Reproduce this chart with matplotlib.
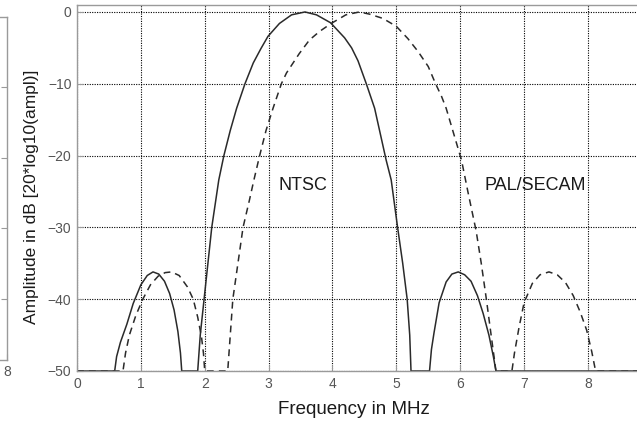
import numpy as np
import matplotlib
matplotlib.use("Agg")
import matplotlib.pyplot as plt

plt.rcParams['font.family'] = ['Liberation Sans', 'DejaVu Sans']

# NTSC spectrum (solid), frequency in MHz / amplitude in dB
ntsc_f = [0.0, 0.59, 0.62, 0.68, 0.78, 0.88, 1.00, 1.10, 1.19, 1.28, 1.37, 1.45, 1.52,
          1.58, 1.62, 1.64,
          1.89, 1.93, 1.99, 2.05, 2.11, 2.22, 2.30, 2.40, 2.50, 2.63, 2.76, 2.88, 2.99,
          3.17, 3.36, 3.57, 3.75, 3.97, 4.19, 4.30, 4.40, 4.53, 4.66, 4.75, 4.84, 4.92,
          5.02, 5.10, 5.17, 5.21, 5.23,
          5.52, 5.55, 5.59, 5.67, 5.78, 5.87, 5.97, 6.07, 6.17, 6.27, 6.36, 6.45, 6.52,
          6.56, 8.9]
ntsc_db = [-50, -50, -48, -46, -43.5, -40.6, -38, -36.7, -36.2, -36.5, -37.5, -39.2, -41.5,
           -44.5, -47.5, -50,
           -50, -45, -40, -35, -30, -23.4, -20, -16.5, -13.4, -10, -7.1, -5.1, -3.4,
           -1.6, -0.4, 0, -0.4, -1.5, -3.6, -5.0, -6.8, -10, -13.4, -17, -20.6, -23.4,
           -30, -35, -40, -45, -50,
           -50, -47, -44.7, -40.5, -37.6, -36.5, -36.2, -36.6, -37.5, -39.5, -42, -45, -48,
           -50, -50]

# PAL/SECAM spectrum (dashed)
pal_f = [0.0, 0.72, 0.76, 0.82, 0.92, 1.03, 1.15, 1.27, 1.38, 1.48, 1.60, 1.73, 1.82,
         1.89, 1.95, 1.98, 2.00,
         2.36, 2.40, 2.44, 2.52, 2.60, 2.70, 2.77, 2.86, 2.96, 3.07, 3.20, 3.28, 3.48,
         3.64, 3.80, 3.98, 4.21, 4.42, 4.58, 4.79, 5.00, 5.18, 5.34, 5.50, 5.61, 5.71,
         5.78, 5.90, 6.02, 6.12, 6.25, 6.33, 6.41, 6.48, 6.53, 6.56,
         6.81, 6.85, 6.92, 7.00, 7.13, 7.25, 7.39, 7.52, 7.65, 7.77, 7.88, 7.98, 8.06,
         8.12, 8.9]
pal_db = [-50, -50, -47.5, -45, -42.3, -40, -38, -36.8, -36.3, -36.2, -36.7, -38.3, -40,
          -42.5, -45.3, -47.5, -50,
          -50, -45, -40, -35, -30, -26.2, -23.4, -20, -16.5, -13.4, -10, -8.5, -5.8,
          -3.9, -2.7, -1.6, -0.4, 0, -0.3, -0.9, -2.0, -3.7, -5.5, -7.6, -9.9, -11.8,
          -13.4, -17, -20.6, -25, -30.5, -35, -40, -44.7, -48, -50,
          -50, -47.5, -44, -40.5, -37.8, -36.6, -36.2, -36.6, -37.7, -39.5, -41.8, -44.3, -47.3,
          -50, -50]

labels = ["NTSC", "PAL/SECAM"]
label_f = [3.53, 7.18]
label_db = [-24.1, -24.1]

xticks = list(range(0, 9))
yticks = [0, -10, -20, -30, -40, -50]

frame_col = "#9a9a9a"
tick_col = "#555555"

fig = plt.figure(figsize=(6.37, 4.25), dpi=100)

# edge of the neighbouring panel on the left
axl = fig.add_axes([-200 / 637, 65 / 425, 207 / 637, 343 / 425])
axl.set_xlim(5, 8)
axl.set_ylim(0.13, 5.0)
axl.set_xticks([8])
axl.set_yticks([1, 2, 3, 4])
axl.tick_params(direction="in", right=True, left=False, labelleft=False,
                length=4, color=frame_col, labelcolor=tick_col, labelsize=10)
axl.spines['left'].set_visible(False)
for s in ['top', 'right', 'bottom']:
    axl.spines[s].set_color(frame_col)
    axl.spines[s].set_linewidth(1.0)

# main panel
ax = fig.add_axes([77 / 637, 54 / 425, 562 / 637, 366 / 425])
ax.plot(ntsc_f, ntsc_db, color="#2a2a2a", lw=1.1, solid_joinstyle="round")
ax.plot(pal_f, pal_db, color="#2a2a2a", lw=1.1, linestyle=(0, (4.5, 3.3)))

for t, xf, yd in zip(labels, label_f, label_db):
    ax.text(xf, yd, t, ha="center", va="center", fontsize=13, color="#1a1a1a")

ax.set_xlim(0, 8.8)
ax.set_ylim(-50, 0.97)
ax.set_xticks(xticks)
ax.set_yticks(yticks)
ax.grid(True, color="black", linestyle=(0, (1, 1.2)), linewidth=0.8)
ax.tick_params(direction="in", length=4, color=frame_col, labelcolor=tick_col,
               labelsize=10, pad=4)
ax.spines['right'].set_visible(False)
for s in ['top', 'left', 'bottom']:
    ax.spines[s].set_color(frame_col)
    ax.spines[s].set_linewidth(1.0)

ax.set_xlabel("Frequency in MHz", fontsize=13.5, color="#1a1a1a")
ax.xaxis.set_label_coords((354 - 77) / 562, -(410 - 371) / 366, transform=ax.transAxes)
ax.xaxis.label.set_va("center")
ax.set_ylabel("Amplitude in dB [20*log10(ampl)]", fontsize=12.5, color="#1a1a1a")
ax.yaxis.set_label_coords(-(77 - 32) / 562, (371 - 197) / 366, transform=ax.transAxes)
ax.yaxis.label.set_va("center")

fig.savefig("out.png", dpi=100)
